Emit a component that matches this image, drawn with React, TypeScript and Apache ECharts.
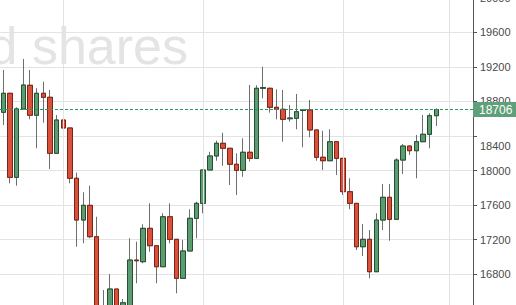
import React, { useEffect, useRef } from "react";
import * as echarts from "echarts";

// Candle values, one entry per trading day
const opens = [
  18674, 18894, 17922, 18713, 18987, 18640, 18894, 18848, 18200, 18585,
  18493, 17911, 17428, 17598, 17235, 16380, 16400, 16630, 16420, 16420,
  16965, 16946, 17332, 17131, 16888, 17466, 17205, 16754, 17070, 17448,
  17621, 18007, 18169, 18316, 18258, 18073, 18003, 18212, 18142, 18952,
  18952, 18732, 18709, 18600, 18605, 18695, 18701, 18470, 18154, 18114,
  18334, 18142, 17756, 17621, 17119, 17205, 16830, 17428, 17691, 17436,
  18122, 18284, 18230, 18334, 18420, 18635,
];
const closes = [
  18894, 17922, 18713, 18990, 18640, 18894, 18848, 18200, 18585, 18493,
  17911, 17428, 17598, 17235, 16350, 16430, 16630, 16420, 16471, 16965,
  16957, 17332, 17131, 16888, 17466, 17205, 16754, 17070, 17448, 17621,
  18007, 18169, 18316, 18258, 18073, 18003, 18212, 18142, 18952, 18960,
  18732, 18709, 18593, 18608, 18681, 18701, 18470, 18154, 18114, 18334,
  18142, 17756, 17621, 17119, 17205, 16830, 17428, 17691, 17436, 18122,
  18284, 18230, 18334, 18420, 18635, 18706,
];
const lows = [
  18527, 17853, 17825, 18713, 18593, 18258, 18554, 18018, 18200, 18276,
  17853, 17119, 17159, 17217, 16300, 16280, 16350, 16380, 16380, 16400,
  16696, 16927, 17061, 16696, 16888, 17159, 16580, 16754, 17070, 17217,
  17506, 18007, 18114, 18056, 17833, 17717, 17929, 18103, 18142, 18836,
  18670, 18593, 18334, 18566, 18478, 18269, 18385, 18114, 18007, 18114,
  17949, 17717, 17552, 17081, 17012, 16754, 16830, 17313, 17189, 17436,
  17960, 18180, 17911, 18334, 18258, 18516,
];
const highs = [
  19164, 18900, 18732, 19291, 19164, 18952, 19028, 18932, 18643, 18778,
  18493, 17976, 17749, 17825, 17466, 16618, 16803, 16630, 16514, 17217,
  17177, 17379, 17621, 17131, 17506, 17621, 17205, 17197, 17552, 17640,
  18007, 18218, 18346, 18438, 18258, 18200, 18374, 18990, 18987, 19202,
  18960, 18940, 18932, 18759, 18886, 18705, 18817, 18470, 18461, 18478,
  18334, 18142, 17911, 17621, 17382, 17313, 17506, 17845, 17845, 18142,
  18308, 18284, 18412, 18643, 18663, 18721,
];

// x slots (66 candles + 5 empty slots to the right)
const slotCount = 71;
const categories = Array.from({ length: slotCount }, (_, i) => `D${i + 1}`);
// vertical grid lines sit on these days
const periodStarts = [9, 30, 51, 67];

// y axis
const yMin = 16400;
const yMax = 20000;
const yStep = 400;
const shiftedTick = 18400;

const lastPrice = 18706;
const watermark = "d shares";

const UP_FILL = "#5c9c72";
const UP_BORDER = "#24502f";
const DOWN_FILL = "#d9513a";
const DOWN_BORDER = "#7e2416";
const WICK = "#6e6e6e";
const GRID = "#e3e3e3";
const PRICE_LINE = "#249a60";
const FONT = "'Liberation Sans', Arial, sans-serif";

export default function App() {
  const ref = useRef<HTMLDivElement>(null);

  useEffect(() => {
    document.body.style.margin = "0";
    if (!ref.current) return;
    const chart = echarts.init(ref.current, undefined, { renderer: "svg" });

    const full = opens.map((o, i) => [o, closes[i], lows[i], highs[i]]);
    const bodies = opens.map((o, i) => [
      o,
      closes[i],
      Math.min(o, closes[i]),
      Math.max(o, closes[i]),
    ]);

    chart.setOption({
      animation: false,
      backgroundColor: "#ffffff",
      graphic: [
        {
          type: "text",
          z: 0,
          silent: true,
          x: 188,
          y: 72,
          style: {
            text: watermark,
            fill: "#e4e4e4",
            font: `52px ${FONT}`,
            textAlign: "right",
            textVerticalAlign: "bottom",
          },
        },
      ],
      grid: {
        left: 0,
        right: 43,
        top: -2.3,
        bottom: -3.9,
        containLabel: false,
        outerBoundsMode: "none",
      },
      xAxis: {
        type: "category",
        data: categories,
        boundaryGap: true,
        axisLine: { show: false },
        axisTick: { show: false },
        axisLabel: { show: false },
        splitLine: { show: false },
      },
      yAxis: {
        type: "value",
        position: "right",
        min: yMin,
        max: yMax,
        interval: yStep,
        axisLine: { show: true, lineStyle: { color: "#555555", width: 1 } },
        axisTick: { show: true, length: 4, lineStyle: { color: "#555555" } },
        axisLabel: {
          show: true,
          showMinLabel: false,
          margin: 7,
          color: "#4a4a4a",
          fontSize: 11,
          fontFamily: FONT,
          formatter: (v: number) =>
            v === shiftedTick ? `{shift|${v}}` : `${v}`,
          rich: {
            shift: {
              padding: [19, 0, 0, 0],
              color: "#4a4a4a",
              fontSize: 11,
              fontFamily: FONT,
            },
          },
        },
        splitLine: { show: true, lineStyle: { color: GRID, width: 1 } },
      },
      series: [
        {
          type: "line",
          data: [],
          z: 1,
          silent: true,
          markLine: {
            silent: true,
            symbol: "none",
            label: { show: false },
            lineStyle: { color: GRID, type: "solid", width: 1 },
            data: periodStarts.map((i) => ({ xAxis: i })),
          },
        },
        {
          type: "candlestick",
          data: full,
          barWidth: 5,
          z: 2,
          silent: true,
          itemStyle: {
            color: UP_FILL,
            color0: DOWN_FILL,
            borderColor: WICK,
            borderColor0: WICK,
            borderColorDoji: WICK,
            borderWidth: 1,
          },
        },
        {
          type: "candlestick",
          data: bodies,
          barWidth: 5,
          z: 3,
          silent: true,
          itemStyle: {
            color: UP_FILL,
            color0: DOWN_FILL,
            borderColor: UP_BORDER,
            borderColor0: DOWN_BORDER,
            borderColorDoji: UP_BORDER,
            borderWidth: 1,
          },
        },
        {
          type: "line",
          data: [],
          z: 4,
          silent: true,
          color: PRICE_LINE,
          markLine: {
            silent: true,
            symbol: "none",
            lineStyle: { color: PRICE_LINE, type: [3, 2], width: 1, opacity: 1 },
            label: {
              show: true,
              position: "end",
              distance: 0,
              formatter: () => String(lastPrice),
              backgroundColor: "#5fa07a",
              color: "#ffffff",
              fontSize: 12,
              fontFamily: FONT,
              padding: [2, 7, 1, 6],
            },
            data: [{ yAxis: lastPrice }],
          },
        },
      ],
    });

    return () => chart.dispose();
  }, []);

  return <div ref={ref} style={{ width: 516, height: 305 }} />;
}
